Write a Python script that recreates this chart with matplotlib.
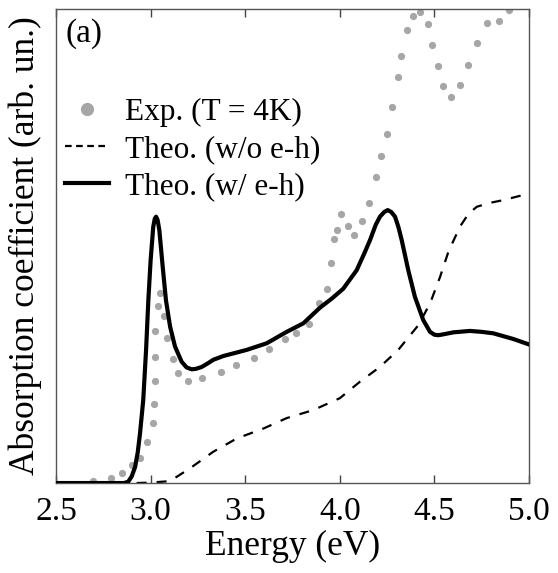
import numpy as np
import matplotlib.pyplot as plt
from matplotlib.lines import Line2D

plt.rcParams['font.family'] = ['Liberation Serif', 'DejaVu Serif']

# experimental absorption (T = 4K)
e_exp = [2.697, 2.79, 2.847, 2.90, 2.944, 2.979, 3.011, 3.02, 3.025, 3.025, 3.025,
         3.041, 3.05, 3.071, 3.088, 3.117, 3.146, 3.196, 3.27, 3.37, 3.451, 3.547,
         3.627, 3.712, 3.768, 3.839, 3.892, 3.934, 3.952, 3.969, 3.984, 4.005, 4.045,
         4.075, 4.119, 4.156, 4.19, 4.218, 4.248, 4.278, 4.309, 4.324, 4.357, 4.389,
         4.424, 4.468, 4.49, 4.521, 4.547, 4.586, 4.635, 4.678, 4.723, 4.778, 4.84,
         4.894]
a_exp = [0.004, 0.01, 0.022, 0.038, 0.052, 0.086, 0.127, 0.166, 0.216, 0.265, 0.321,
         0.373, 0.401, 0.353, 0.307, 0.261, 0.233, 0.216, 0.222, 0.234, 0.249, 0.264,
         0.283, 0.303, 0.316, 0.335, 0.379, 0.41, 0.465, 0.515, 0.534, 0.567, 0.542,
         0.523, 0.553, 0.592, 0.646, 0.69, 0.736, 0.794, 0.856, 0.901, 0.956, 0.986,
         0.994, 0.968, 0.924, 0.88, 0.838, 0.814, 0.839, 0.883, 0.929, 0.97, 0.975,
         0.999]

# theory with electron-hole interaction
e_eh = [2.5, 2.86, 2.882, 2.90, 2.918, 2.932, 2.944, 2.961, 2.976, 2.988, 3.0, 3.014,
        3.022, 3.029, 3.037, 3.046, 3.064, 3.081, 3.103, 3.129, 3.164, 3.19, 3.217,
        3.24, 3.27, 3.30, 3.331, 3.384, 3.508, 3.614, 3.719, 3.807, 3.895, 3.96,
        4.018, 4.089, 4.13, 4.16, 4.19, 4.212, 4.235, 4.253, 4.272, 4.292, 4.31,
        4.327, 4.362, 4.397, 4.441, 4.477, 4.50, 4.521, 4.55, 4.6, 4.688, 4.75,
        4.811, 4.917, 4.996]
a_eh = [0.0, 0.0, 0.003, 0.014, 0.034, 0.065, 0.105, 0.175, 0.281, 0.386, 0.47, 0.541,
        0.558, 0.562, 0.555, 0.534, 0.456, 0.386, 0.33, 0.288, 0.256, 0.244, 0.24,
        0.241, 0.245, 0.252, 0.26, 0.268, 0.281, 0.295, 0.319, 0.337, 0.37, 0.39,
        0.41, 0.449, 0.485, 0.513, 0.545, 0.562, 0.572, 0.576, 0.572, 0.562, 0.54,
        0.513, 0.449, 0.393, 0.344, 0.319, 0.313, 0.312, 0.314, 0.318, 0.321, 0.319,
        0.316, 0.304, 0.293]

# theory without electron-hole interaction
e_noeh = [2.926, 3.0, 3.102, 3.208, 3.331, 3.455, 3.596, 3.719, 3.86, 4.0, 4.107,
          4.212, 4.309, 4.415, 4.477, 4.53, 4.574, 4.635, 4.68, 4.724, 4.79, 4.864,
          5.0]
a_noeh = [0.0, 0.001, 0.004, 0.031, 0.066, 0.094, 0.115, 0.137, 0.154, 0.179, 0.214,
          0.245, 0.281, 0.333, 0.379, 0.435, 0.488, 0.541, 0.568, 0.583, 0.591, 0.597,
          0.611]

fig = plt.figure(figsize=(5.58, 5.73), dpi=100)
ax = fig.add_axes([0.1004, 0.157, 0.8476, 0.827])

ax.plot(e_exp, a_exp, 'o', color='#a6a6a6', ms=5.2, mec='none', zorder=1)
ax.plot(e_noeh, a_noeh, color='black', lw=1.6, dashes=(4.5, 4.5), zorder=2)
ax.plot(e_eh, a_eh, color='black', lw=3.0, zorder=3,
        solid_joinstyle='round')

ax.set_xlim(2.5, 5.0)
ax.set_ylim(0, 1.0)
ax.set_xticks([2.5, 3.0, 3.5, 4.0, 4.5, 5.0])
ax.set_xticklabels(['2.5', '3.0', '3.5', '4.0', '4.5', '5.0'])
ax.set_yticks([])
ax.tick_params(axis='x', direction='in', top=True, length=6, width=1.0,
               color='#444444', labelsize=24, pad=10)
for s in ax.spines.values():
    s.set_color('#555555')
    s.set_linewidth(1.0)

ax.set_xlabel('Energy (eV)', fontsize=25.5, labelpad=2)
ax.set_ylabel('Absorption coefficient (arb. un.)', fontsize=25.5, labelpad=10)

ax.text(0.02, 0.98, '(a)', transform=ax.transAxes, fontsize=24,
        va='top', ha='left')

handles = [
    Line2D([], [], ls='none', marker='o', color='#a6a6a6', mec='none', ms=9.5),
    Line2D([], [], color='black', lw=1.6, dashes=(3, 2)),
    Line2D([], [], color='black', lw=3.0),
]
labels = ['Exp. (T = 4K)', 'Theo. (w/o e-h)', 'Theo. (w/ e-h)']
ax.legend(handles, labels, loc='upper left', bbox_to_anchor=(-0.023, 0.855),
          frameon=False, fontsize=22.5, handlelength=1.4, handletextpad=0.5,
          labelspacing=0.25, borderaxespad=0.25)

fig.savefig('out.png', dpi=100)
